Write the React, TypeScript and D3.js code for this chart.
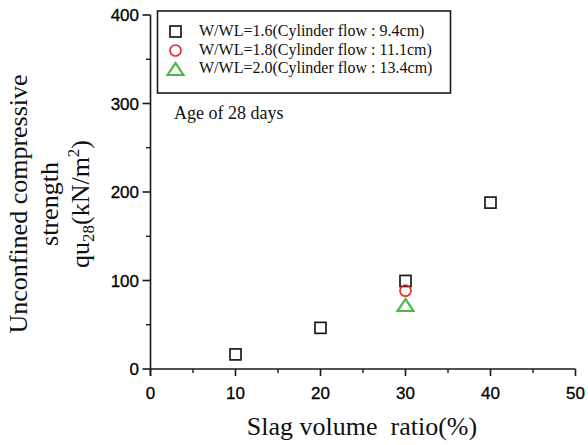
import React from "react";
import * as d3 from "d3";

const xTicks = [0, 10, 20, 30, 40, 50];
const yTicks = [0, 100, 200, 300, 400];
const seriesLabels = [
  "W/WL=1.6(Cylinder flow : 9.4cm)",
  "W/WL=1.8(Cylinder flow : 11.1cm)",
  "W/WL=2.0(Cylinder flow : 13.4cm)",
];
const squareX = [10, 20, 30, 40];
const squareY = [16.5, 46.5, 99.5, 188];
const circleX = [30];
const circleY = [88.5];
const triangleX = [30];
const triangleY = [70];

const W = 588;
const H = 445;
const serif = "'Liberation Serif', 'Times New Roman', serif";
const sans = "'Liberation Sans', Arial, sans-serif";
const axisColor = "#1a1a1a";
const red = "#ee2a2a";
const green = "#4db848";

export default function App() {
  const x = d3.scaleLinear().domain([0, 50]).range([150.5, 575.5]);
  const y = d3.scaleLinear().domain([0, 400]).range([369, 15]);
  const xMinor = d3.range(5, 50, 10);
  const yMinor = d3.range(50, 400, 100);
  const tri = d3.symbol().type(d3.symbolTriangle).size(100)();

  const square = (cx: number, cy: number, key: string) => (
    <rect key={key} x={cx - 5.5} y={cy - 5.5} width={11} height={11} fill="none" stroke="#1a1a1a" strokeWidth={1.7} />
  );
  const circle = (cx: number, cy: number, key: string) => (
    <circle key={key} cx={cx} cy={cy} r={5.5} fill="none" stroke={red} strokeWidth={1.7} />
  );
  const triangle = (cx: number, cy: number, key: string) => (
    <path key={key} d={tri as string} transform={`translate(${cx},${cy}) scale(1.05,0.92)`} fill="none" stroke={green} strokeWidth={2.2} />
  );

  return (
    <svg width={W} height={H} style={{ position: "absolute", left: 0, top: 0 }}>
      <rect width={W} height={H} fill="#fff" />
      {/* axes */}
      <line x1={x(0)} x2={x(50)} y1={y(0)} y2={y(0)} stroke={axisColor} strokeWidth={1.6} />
      <line x1={x(0)} x2={x(0)} y1={y(0) + 7} y2={y(400)} stroke={axisColor} strokeWidth={1.6} />
      {xTicks.map((t) => (
        <g key={"xt" + t}>
          <line x1={x(t)} x2={x(t)} y1={y(0)} y2={y(0) + 7} stroke={axisColor} strokeWidth={1.6} />
          <text x={x(t)} y={399} textAnchor="middle" fontFamily={sans} fontSize={17} fill="#000" stroke="#000" strokeWidth={0.3}>{t}</text>
        </g>
      ))}
      {xMinor.map((t) => (
        <line key={"xm" + t} x1={x(t)} x2={x(t)} y1={y(0)} y2={y(0) + 4} stroke={axisColor} strokeWidth={1.4} />
      ))}
      {yTicks.map((t) => (
        <g key={"yt" + t}>
          <line x1={x(0) - 8} x2={x(0)} y1={y(t)} y2={y(t)} stroke={axisColor} strokeWidth={1.6} />
          <text x={139} y={y(t) + 6} textAnchor="end" fontFamily={sans} fontSize={17} fill="#000" stroke="#000" strokeWidth={0.3}>{t}</text>
        </g>
      ))}
      {yMinor.map((t) => (
        <line key={"ym" + t} x1={x(0) - 4.5} x2={x(0)} y1={y(t)} y2={y(t)} stroke={axisColor} strokeWidth={1.4} />
      ))}
      {/* axis titles */}
      <text x={362} y={435} textAnchor="middle" fontFamily={serif} fontSize={26} fill="#111" style={{ whiteSpace: "pre" }}>Slag volume  ratio(%)</text>
      <g transform="translate(27,204) rotate(-90)">
        <text x={0} y={0} textAnchor="middle" fontFamily={serif} fontSize={26} fill="#111">Unconfined compressive</text>
        <text x={0} y={31} textAnchor="middle" fontFamily={serif} fontSize={26} fill="#111">strength</text>
        <text x={0} y={62} textAnchor="middle" fontFamily={serif} fontSize={26} fill="#111">
          qu<tspan fontSize={17} dy={5}>28</tspan><tspan dy={-5}>(kN/m</tspan><tspan fontSize={17} dy={-10}>2</tspan><tspan dy={10}>)</tspan>
        </text>
      </g>
      {/* legend */}
      <rect x={157.5} y={11} width={293} height={82} fill="none" stroke="#1a1a1a" strokeWidth={1.6} />
      {square(175.5, 31.5, "ls")}
      {circle(175.5, 50.5, "lc")}
      {triangle(175.5, 71, "lt")}
      {seriesLabels.map((s, i) => (
        <text key={s} x={199} y={36 + i * 18.5} fontFamily={serif} fontSize={16} fill="#111">{s}</text>
      ))}
      <text x={174} y={119} fontFamily={serif} fontSize={18} fill="#111">Age of 28 days</text>
      {/* data */}
      {squareX.map((v, i) => square(x(v), y(squareY[i]), "s" + i))}
      {circleX.map((v, i) => circle(x(v), y(circleY[i]), "c" + i))}
      {triangleX.map((v, i) => triangle(x(v), y(triangleY[i]), "t" + i))}
    </svg>
  );
}
